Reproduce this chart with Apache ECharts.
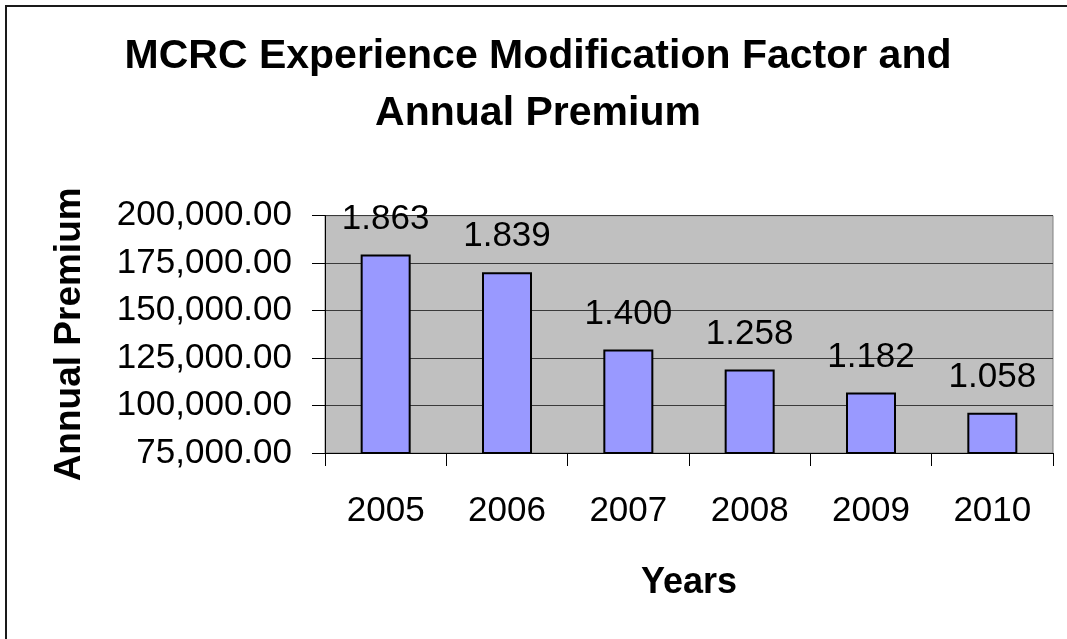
<!DOCTYPE html>
<html>
<head>
<meta charset="utf-8">
<title>MCRC Experience Modification Factor and Annual Premium</title>
<script src="https://cdn.jsdelivr.net/npm/echarts@6/dist/echarts.min.js"></script>
<style>
  html, body { margin: 0; padding: 0; background: #ffffff; }
  #chart { width: 1067px; height: 639px; }
</style>
</head>
<body>
<div id="chart"></div>
<script>
// Policy years shown on the category axis
const years = ['2005', '2006', '2007', '2008', '2009', '2010'];
// Annual premium paid each year (bar heights)
const annualPremium = [179500, 170200, 129500, 119000, 106900, 96200];
// Experience modification factor printed above each bar
const modFactor = ['1.863', '1.839', '1.400', '1.258', '1.182', '1.058'];
// Value axis range and step
const premiumMin = 75000;
const premiumMax = 200000;
const premiumStep = 25000;

const FONT = '"Liberation Sans", Arial, sans-serif';

function formatMoney(v) {
  const parts = v.toFixed(2).split('.');
  parts[0] = parts[0].replace(/\B(?=(\d{3})+(?!\d))/g, ',');
  return parts.join('.');
}

const chart = echarts.init(document.getElementById('chart'), null, { renderer: 'canvas' });

chart.setOption({
  animation: false,
  backgroundColor: '#ffffff',
  title: {
    text: 'MCRC Experience Modification Factor and\nAnnual Premium',
    left: 538,
    top: 28,
    padding: 0,
    textAlign: 'center',
    textStyle: {
      fontFamily: FONT,
      fontSize: 41,
      fontWeight: 'bold',
      color: '#000000',
      lineHeight: 57
    }
  },
  graphic: [{
    type: 'rect',
    shape: { x: 6, y: 6, width: 1200, height: 1000 },
    style: { fill: 'none', stroke: '#1a1a1a', lineWidth: 2 },
    silent: true
  }],
  grid: {
    left: 325,
    top: 215.7,
    right: 14,
    bottom: 186,
    show: true,
    backgroundColor: '#C0C0C0',
    borderColor: '#808080',
    borderWidth: 1
  },
  xAxis: {
    type: 'category',
    data: years,
    boundaryGap: true,
    name: 'Years',
    nameLocation: 'middle',
    nameGap: 112,
    nameTextStyle: {
      fontFamily: FONT,
      fontSize: 36,
      fontWeight: 'bold',
      color: '#000000',
      lineHeight: 36
    },
    axisLine: { show: true, lineStyle: { color: '#000000', width: 1 } },
    axisTick: { show: true, inside: false, length: 13, alignWithLabel: false, lineStyle: { color: '#000000' } },
    axisLabel: {
      margin: 41,
      fontFamily: FONT,
      fontSize: 35,
      color: '#000000',
      lineHeight: 35
    },
    splitLine: { show: false }
  },
  yAxis: {
    type: 'value',
    min: premiumMin,
    max: premiumMax,
    interval: premiumStep,
    name: 'Annual Premium',
    nameLocation: 'middle',
    nameGap: 237,
    nameTextStyle: {
      fontFamily: FONT,
      fontSize: 37,
      fontWeight: 'bold',
      color: '#000000',
      lineHeight: 37
    },
    axisLine: { show: true, lineStyle: { color: '#000000', width: 1 } },
    axisTick: { show: true, inside: false, length: 13, lineStyle: { color: '#000000' } },
    axisLabel: {
      margin: 33,
      fontFamily: FONT,
      fontSize: 35,
      color: '#000000',
      formatter: formatMoney
    },
    splitLine: { show: true, lineStyle: { color: '#3a3a3a', width: 1 } }
  },
  series: [{
    type: 'bar',
    data: annualPremium,
    barWidth: 50,
    itemStyle: {
      color: '#9999FF',
      borderColor: '#000000',
      borderWidth: 2
    },
    label: {
      show: true,
      position: 'top',
      distance: 18,
      fontFamily: FONT,
      fontSize: 35,
      color: '#000000',
      lineHeight: 35,
      formatter: function (p) { return modFactor[p.dataIndex]; }
    }
  }]
});
</script>
</body>
</html>
